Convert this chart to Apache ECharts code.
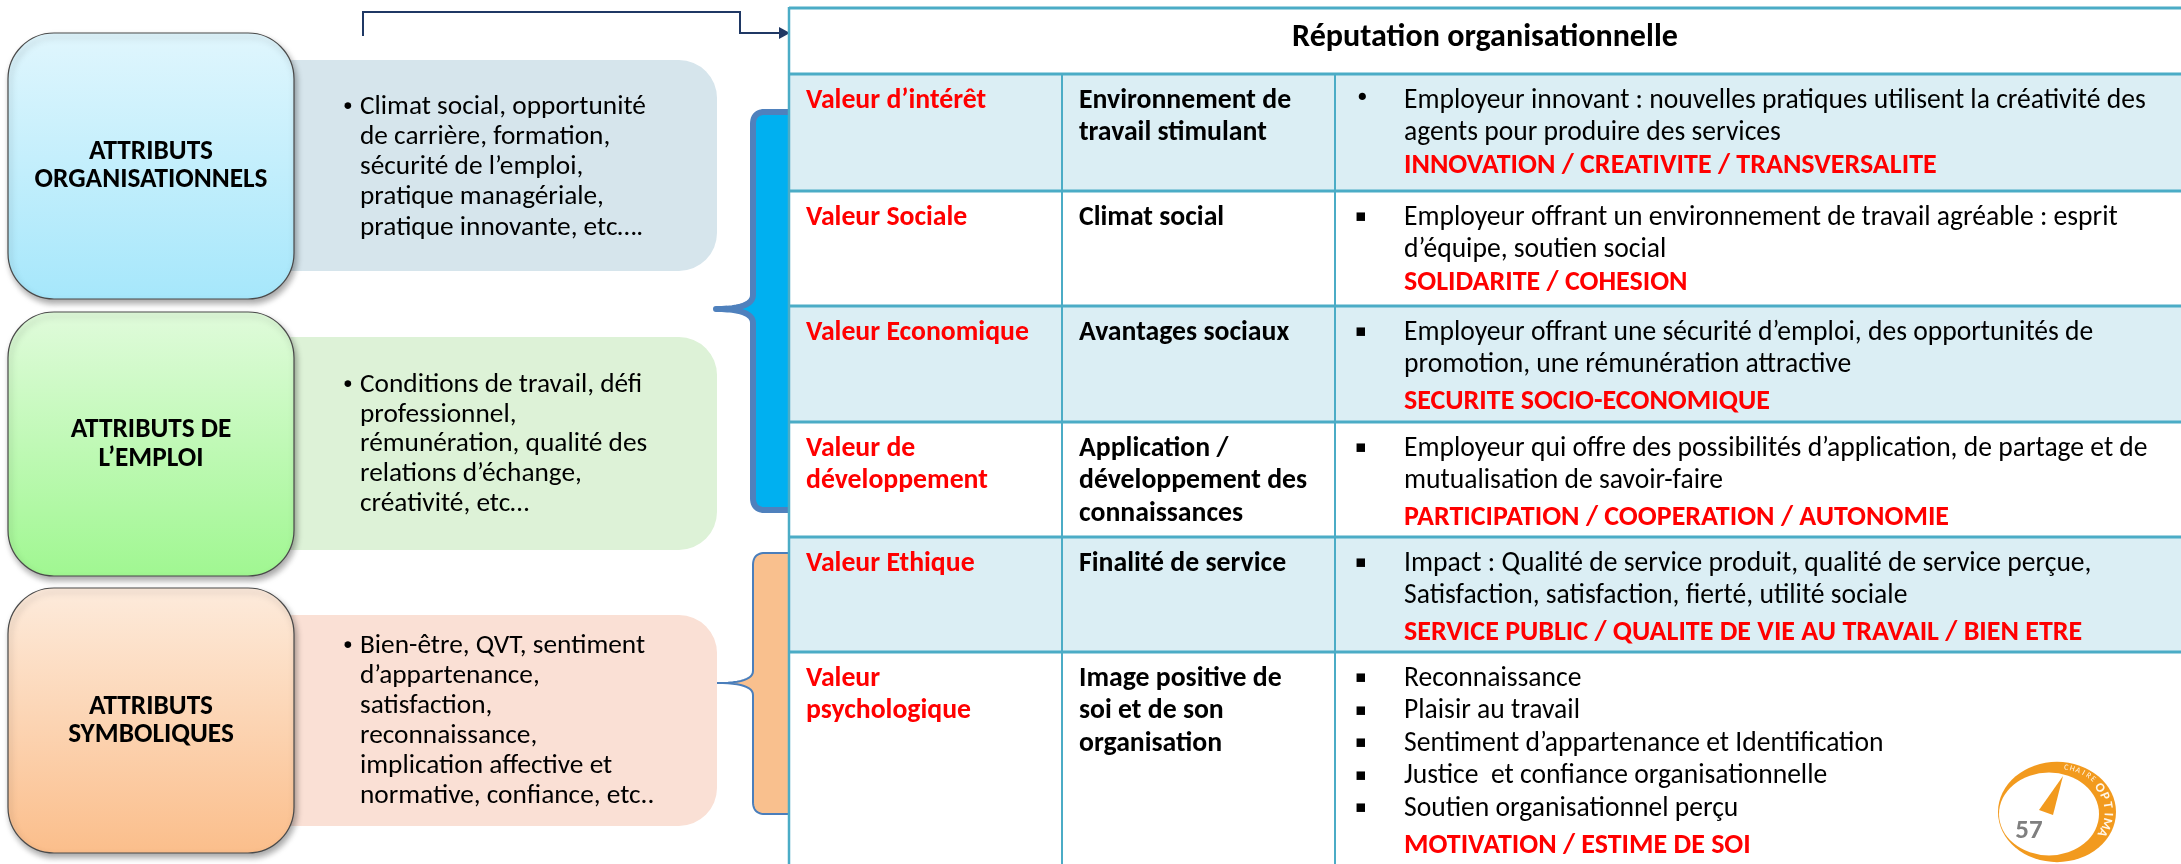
<!DOCTYPE html>
<html><head><meta charset="utf-8">
<script src="https://cdn.jsdelivr.net/npm/echarts@6/dist/echarts.min.js"></script>
<style>html,body{margin:0;padding:0;background:#fff}#c{width:2181px;height:864px}</style>
</head><body><div id="c"></div>
<script>
// ---------- content ----------
const attributeTitles = [["ATTRIBUTS","ORGANISATIONNELS"],["ATTRIBUTS DE","L’EMPLOI"],["ATTRIBUTS","SYMBOLIQUES"]];
const attributeDetails = [
  ["Climat social, opportunité","de carrière, formation,","sécurité de l’emploi,","pratique managériale,","pratique innovante, etc…."],
  ["Conditions de travail, défi","professionnel,","rémunération, qualité des","relations d’échange,","créativité, etc…"],
  ["Bien-être, QVT, sentiment","d’appartenance,","satisfaction,","reconnaissance,","implication affective et","normative, confiance, etc.."]
];
const tableTitle = "Réputation organisationnelle";
const valueNames = [["Valeur d’intérêt"],["Valeur Sociale"],["Valeur Economique"],["Valeur de","développement"],["Valeur Ethique"],["Valeur","psychologique"]];
const valueThemes = [["Environnement de","travail stimulant"],["Climat social"],["Avantages sociaux"],["Application /","développement des","connaissances"],["Finalité de service"],["Image positive de","soi et de son","organisation"]];
const valueDescriptions = [
  ["Employeur innovant : nouvelles pratiques utilisent la créativité des","agents pour produire des services"],
  ["Employeur offrant un environnement de travail agréable : esprit","d’équipe, soutien social"],
  ["Employeur offrant une sécurité d’emploi, des opportunités de","promotion, une rémunération attractive"],
  ["Employeur qui offre des possibilités d’application, de partage et de","mutualisation de savoir-faire"],
  ["Impact : Qualité de service produit, qualité de service perçue,","Satisfaction, satisfaction, fierté, utilité sociale"],
  ["Reconnaissance","Plaisir au travail","Sentiment d’appartenance et Identification","Justice  et confiance organisationnelle","Soutien organisationnel perçu"]
];
const descriptionBullets = [["•"],["▪"],["▪"],["▪"],["▪"],["▪","▪","▪","▪","▪"]];
const valueKeywords = ["INNOVATION / CREATIVITE / TRANSVERSALITE","SOLIDARITE / COHESION","SECURITE SOCIO-ECONOMIQUE","PARTICIPATION / COOPERATION / AUTONOMIE","SERVICE PUBLIC / QUALITE DE VIE AU TRAVAIL / BIEN ETRE","MOTIVATION / ESTIME DE SOI"];
const pageNumber = "57";
const logoWords = ["CHAIRE","OPTIMA"];

// ---------- layout / style ----------
const FONT = "Carlito, Calibri, Lato, 'Open Sans', sans-serif";
const mctx = document.createElement('canvas').getContext('2d');
function fit(str, target, weight){ mctx.font = weight + ' 100px ' + FONT; return 100 * target / mctx.measureText(str).width; }
const S_BODY = fit(valueDescriptions[0][0], 742, 'normal');
const S_KEY = fit(valueKeywords[0], 533, 'bold');
const S_COL = fit(valueNames[2][0], 223, 'bold');
const S_HEAD = fit(tableTitle, 386, 'bold');
const S_LEFT = fit(attributeDetails[0][0], 286, 'normal');
const S_TITLE = fit(attributeTitles[0][1], 233, 'bold');

const g = [];
function txt(x, y, text, size, o){
  o = o || {};
  g.push({type:'text', x:x, y:y, z:o.z||20, rotation:o.rot||0,
    style:{text:text, fontSize:size, fontFamily:o.family||FONT, fontWeight:o.bold?'bold':'normal', fill:o.color||'#000',
      align:o.align||'left', verticalAlign:'middle'}});
}
function quadPts(p0,c,p1,n){ n=n||12; const out=[]; for(let i=1;i<=n;i++){const t=i/n,a=(1-t)*(1-t),b=2*(1-t)*t,d=t*t; out.push([a*p0[0]+b*c[0]+d*p1[0], a*p0[1]+b*c[1]+d*p1[1]]);} return out; }
function bracePts(xr,xl,top,bottom,tx,ty,r,r2){
  let p=[[xr,top],[xl+r,top]];
  p=p.concat(quadPts([xl+r,top],[xl,top],[xl,top+r]));
  p.push([xl,ty-r2]);
  p=p.concat(quadPts([xl,ty-r2],[xl,ty],[tx,ty]));
  p=p.concat(quadPts([tx,ty],[xl,ty],[xl,ty+r2]));
  p.push([xl,bottom-r]);
  p=p.concat(quadPts([xl,bottom-r],[xl,bottom],[xl+r,bottom]));
  p.push([xr,bottom]);
  return p;
}

// arrow
g.push({type:'polyline', z:5, shape:{points:[[363,36],[363,12],[740,12],[740,33],[780,33]]}, style:{stroke:'#1F3864', lineWidth:2, fill:null}});
g.push({type:'polygon', z:5, shape:{points:[[779,27],[790,33],[779,39]]}, style:{fill:'#1F3864'}});

// left boxes
const boxes = [
  {y0:33, y1:299, i0:60, i1:271, t:[152,180], l0:107, st:30.2,
   grad:['#E0F6FD','#A6E7FB'], info:'#D6E5EC'},
  {y0:312, y1:576, i0:337, i1:550, t:[430,459], l0:385, st:29.7,
   grad:['#E0FBDB','#A0F791'], info:'#DDF2D7'},
  {y0:588, y1:853, i0:615, i1:826, t:[707,735], l0:646, st:30,
   grad:['#FDEBDC','#FBBE8B'], info:'#FAE0D5'}
];
boxes.forEach((b,k)=>{
  g.push({type:'rect', z:2, shape:{x:230, y:b.i0, width:717-230, height:b.i1-b.i0, r:[0,38,38,0]}, style:{fill:b.info}});
  g.push({type:'rect', z:4, shape:{x:8, y:b.y0, width:286, height:b.y1-b.y0, r:46},
    style:{fill:new echarts.graphic.LinearGradient(0,0,0,1,[{offset:0,color:b.grad[0]},{offset:1,color:b.grad[1]}]),
      stroke:'#4A4A4A', lineWidth:1.2, shadowBlur:6, shadowOffsetX:2, shadowOffsetY:4, shadowColor:'rgba(0,0,0,0.35)'}});
  attributeTitles[k].forEach((s,i)=>txt(151, b.t[i], s, S_TITLE, {bold:true, align:'center'}));
  txt(341, b.l0 + 1, '•', S_LEFT*0.85, {family:'DejaVu Sans'});
  attributeDetails[k].forEach((s,i)=>txt(360, b.l0 + i*b.st, s, S_LEFT));
});

// braces
const bluePts = bracePts(791,753,112,510,716,309,12,14);
g.push({type:'polygon', z:6, shape:{points:bluePts}, style:{fill:'#00B0F0'}});
g.push({type:'polyline', z:7, shape:{points:bluePts}, style:{stroke:'#4F81BD', lineWidth:6, fill:null, lineJoin:'round', lineCap:'round'}});
const orPts = bracePts(791,753,553,814,717,683,12,12);
g.push({type:'polygon', z:6, shape:{points:orPts}, style:{fill:'#F9C08E'}});
g.push({type:'polyline', z:7, shape:{points:orPts}, style:{stroke:'#4A7EBB', lineWidth:2, fill:null}});

// table
const TX = 789, TR = 2190, C1 = 1062, C2 = 1335;
const rowTops = [74,191,306,422,537,652], rowEnd = 900;
g.push({type:'rect', z:8, shape:{x:TX, y:8, width:TR-TX, height:66}, style:{fill:'#FFFFFF'}});
rowTops.forEach((t,i)=>{
  const bot = i<rowTops.length-1 ? rowTops[i+1] : rowEnd;
  g.push({type:'rect', z:8, shape:{x:TX, y:t, width:TR-TX, height:bot-t}, style:{fill: i%2===0 ? '#DBEEF4' : '#FFFFFF'}});
});
const lineStyle = {stroke:'#4BACC6', lineWidth:3};
[8,74].concat(rowTops.slice(1)).forEach(y=>g.push({type:'line', z:12, shape:{x1:TX,y1:y,x2:TR,y2:y}, style:lineStyle}));
g.push({type:'line', z:12, shape:{x1:TX,y1:7,x2:TX,y2:rowEnd}, style:{stroke:'#4BACC6', lineWidth:2.5}});
[C1,C2].forEach(x=>g.push({type:'line', z:12, shape:{x1:x,y1:74,x2:x,y2:rowEnd}, style:{stroke:'#4BACC6', lineWidth:2}}));
txt((TX+2181)/2, 38, tableTitle, S_HEAD, {bold:true, align:'center'});

const STEP = 32.5;
rowTops.forEach((t,i)=>{
  const y0 = t + 27;
  valueNames[i].forEach((s,j)=>txt(806, y0 + j*STEP, s, S_COL, {bold:true, color:'#FF0000'}));
  valueThemes[i].forEach((s,j)=>txt(1079, y0 + j*STEP, s, S_COL, {bold:true}));
  valueDescriptions[i].forEach((s,j)=>{
    const b = descriptionBullets[i][j];
    if (b) txt(1355, y0 + j*STEP - 1, b, b==='•' ? S_BODY*0.9 : S_BODY*0.62, {family:'DejaVu Sans'});
    txt(1404, y0 + j*STEP, s, S_BODY);
  });
  const nd = valueDescriptions[i].length;
  txt(1404, y0 + (nd-1)*STEP + (i<2 ? STEP : 37), valueKeywords[i], S_KEY, {bold:true, color:'#FF0000'});
});

// logo
const LC = [2057,812];
g.push({type:'circle', z:30, x:LC[0], y:LC[1], scaleY:0.85, shape:{cx:0, cy:0, r:59}, style:{fill:'#F29A1E'}});
g.push({type:'circle', z:31, x:2049, y:814, scaleY:0.83, shape:{cx:0, cy:0, r:50}, style:{fill:'#FFFFFF'}});
g.push({type:'polygon', z:32, shape:{points:[[2039,810],[2053,815],[2063,776]]}, style:{fill:'#F29A1E'}});
txt(2029, 831, pageNumber, 27, {bold:true, color:'#7F7F7F', align:'center', z:33});
function arcWord(word, a0, a1, size, rx, ry, bold){
  const n = word.length;
  for (let i=0;i<n;i++){
    const a = (a0 + (a1-a0)*(n===1?0:i/(n-1))) * Math.PI/180;
    const x = LC[0] + rx*Math.cos(a), y = LC[1] + ry*Math.sin(a);
    txt(x, y, word[i], size, {bold:bold, color:'#FFF6E8', align:'center', rot:-(a+Math.PI/2), z:34});
  }
}
arcWord(logoWords[0], -80, -47, 8, 53, 45, false);
arcWord(logoWords[1], -34, 28, 13, 51, 43, true);

const chart = echarts.init(document.getElementById('c'), null, {renderer:'canvas'});
chart.setOption({animation:false, graphic:{elements:g}});
</script>
</body></html>
